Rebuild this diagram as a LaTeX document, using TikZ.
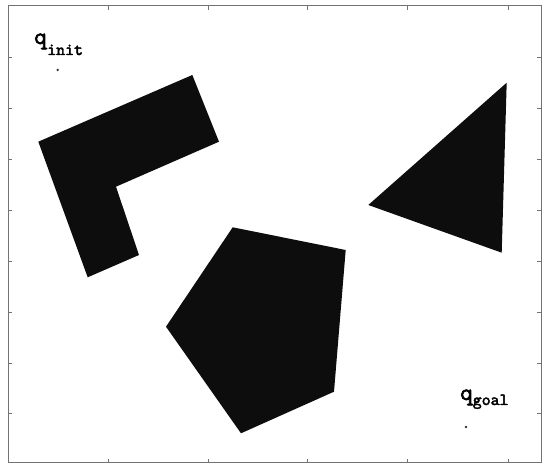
\documentclass[tikz,border=0pt]{standalone}
\usepackage{fontspec}
\newfontfamily\lblfont{lmmono10-regular.otf}[AutoFakeBold=2.5]
\begin{document}
\begin{tikzpicture}[x=1pt,y=-1pt,
  frame/.style={draw=black!55,line width=1pt},
  tickmark/.style={draw=black!55,line width=0.9pt},
  obstacle/.style={fill=black!95,draw=none},
  qlabel/.style={anchor=base west,inner sep=0pt,font=\lblfont\bfseries\fontsize{24}{24}\selectfont},
  qdot/.style={circle,fill=black!80,inner sep=0pt,minimum size=2.6pt}]
\useasboundingbox (0,0) rectangle (542,465);
\fill[white] (0,0) rectangle (542,465);
% frame
\draw[frame] (8,6) rectangle (541,463);
\foreach \x in {108,208,307,407,508}{
  \draw[tickmark] (\x,463) -- (\x,459);
  \draw[tickmark] (\x,6) -- (\x,10);
}
\foreach \y in {57,108,159,210,261,312,363,413}{
  \draw[tickmark] (8,\y) -- (12,\y);
  \draw[tickmark] (541,\y) -- (537,\y);
}
% obstacles
\path[obstacle] (38.3,141.7) -- (192.3,75) -- (219,141.7) -- (116,186.7) -- (139,255) -- (87.7,277.3) -- cycle;
\path[obstacle] (506.7,82.7) -- (368.3,205) -- (501.7,252.7) -- cycle;
\path[obstacle] (232.7,227.3) -- (345.7,250) -- (334,391.7) -- (241,433.3) -- (166,326.7) -- cycle;
% configurations
\node[qdot] (qi) at (57.7,70) {};
\node[qdot] (qg) at (466,427) {};
\node[qlabel] (li) at (34,44) {q\kern0.5pt\raisebox{-11pt}{\fontsize{17}{17}\selectfont init}};
\node[qlabel] (lg) at (460,400) {q\raisebox{-5pt}{\fontsize{17}{17}\selectfont goal}};
\end{tikzpicture}
\end{document}
